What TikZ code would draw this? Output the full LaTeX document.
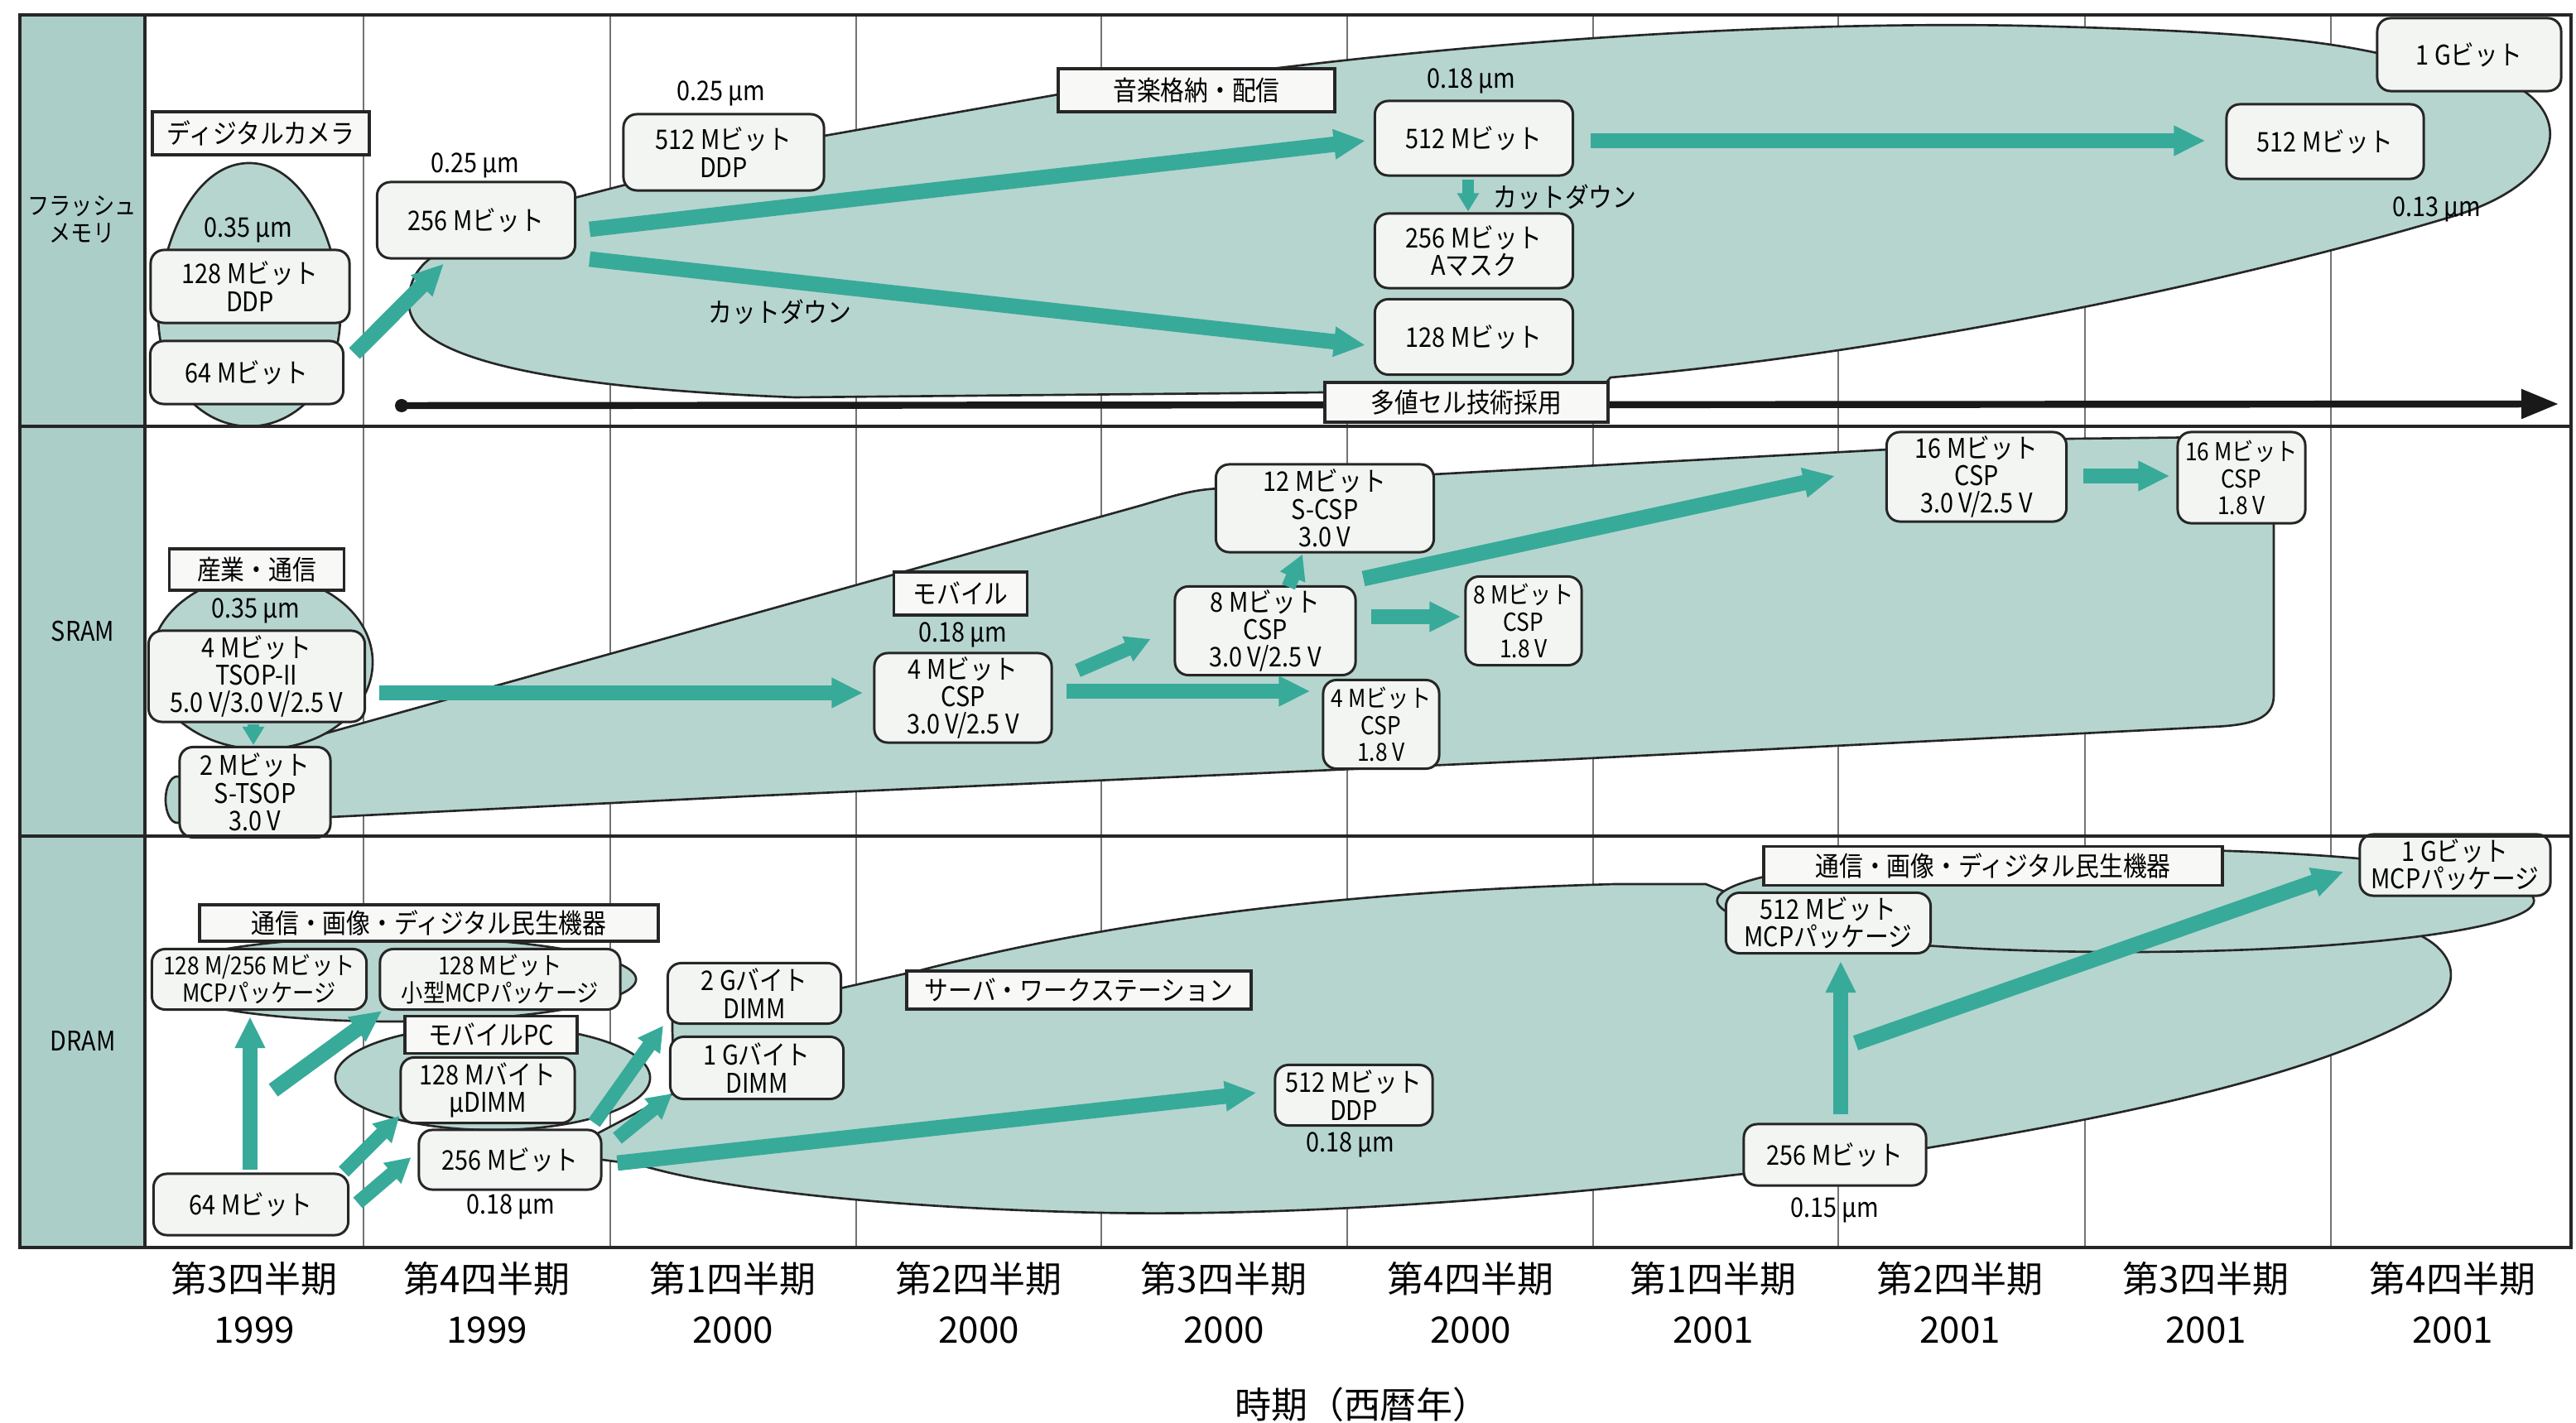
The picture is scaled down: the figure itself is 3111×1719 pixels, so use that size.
\documentclass[tikz,border=0pt]{standalone}
\usepackage{fontspec}
\setmainfont{Noto Sans CJK JP}[FakeStretch=0.88]
\newfontfamily\axisfont{Noto Sans CJK JP}
\usetikzlibrary{arrows.meta}
\definecolor{regfill}{RGB}{182,213,207}
\definecolor{colfill}{RGB}{172,206,200}
\definecolor{boxfill}{RGB}{243,245,242}
\definecolor{catfill}{RGB}{248,249,247}
\definecolor{arrowc}{RGB}{56,170,154}
\newcommand\bxfont{\fontsize{9.3}{9.5}\selectfont}
\newcommand\smfont{\fontsize{8.5}{9.3}\selectfont}
\newcommand\axfont{\axisfont\fontsize{12.5}{13}\selectfont}
\tikzset{
 box/.style={draw=black!85, line width=0.85pt, rounded corners=0.16cm, fill=boxfill, align=center, inner sep=1pt, font=\bxfont},
 cat/.style={draw=black!85, line width=1.1pt, fill=catfill, align=center, inner sep=1pt, font=\bxfont},
 lbl/.style={inner sep=0pt, align=center, font=\bxfont},
 axl/.style={inner sep=0pt, align=center, font=\axfont},
 region/.style={fill=regfill, draw=black!85, line width=0.75pt},
 gridline/.style={draw=black!55, line width=0.4pt},
 frameline/.style={draw=black!85, line width=1.1pt},
 bigarrow/.style={draw=arrowc, line width=5.3pt, -{Triangle[width=0.34cm,length=0.38cm]}},
 midarrow/.style={draw=arrowc, line width=4.8pt, -{Triangle[width=0.31cm,length=0.30cm]}},
 smallarrow/.style={draw=arrowc, line width=3.8pt, -{Triangle[width=0.25cm,length=0.22cm]}},
}
\begin{document}
\begin{tikzpicture}[x=0.01cm,y=-0.01cm]
\useasboundingbox[fill=white] (0,0) rectangle (3111,1719);

% label column and grid
\fill[colfill] (24,18) rectangle (175,1507);
\foreach \gx in {439,737,1034,1330,1627,1924,2220,2518,2815}
  \draw[gridline] (\gx,18) -- (\gx,1507);

% ---------- regions: flash ----------
\path[region] (690,240) -- (760,222) -- (990,165) -- (1290,112) -- (1520,85)
  .. controls (1900,38) and (2250,25) .. (2480,32)
  .. controls (2700,38) and (2800,48) .. (2880,66) -- (3045,108)
  .. controls (3110,150) and (3085,225) .. (2960,262)
  .. controls (2700,340) and (2300,425) .. (1945,456) -- (1935,468) -- (1600,474)
  -- (960,480) .. controls (700,470) and (500,440) .. (494,370)
  .. controls (492,340) and (505,320) .. (530,305) -- cycle;
\path[region] (301,197) .. controls (370,197) and (411,300) .. (411,380)
  .. controls (411,460) and (360,515) .. (301,515)
  .. controls (242,515) and (191,460) .. (191,380)
  .. controls (191,300) and (232,197) .. (301,197);

% ---------- regions: SRAM ----------
\path[region] (368,893) -- (1380,610) .. controls (1420,598) and (1445,590) .. (1480,590)
  -- (1731,573) -- (2280,543) -- (2500,530) -- (2680,528) -- (2746,540) -- (2746,840)
  .. controls (2746,868) and (2720,876) .. (2672,878) -- (1900,917) -- (900,962)
  -- (399,987) -- (300,995) -- (300,905) -- cycle;
\path[region] (214,966) ellipse [x radius=0.14cm, y radius=0.28cm];
\path[region] (316,800) ellipse [x radius=1.34cm, y radius=1.05cm];

% ---------- regions: DRAM ----------
\path[region] (476,1183) ellipse [x radius=2.92cm, y radius=0.51cm];
\path[region] (595,1302) ellipse [x radius=1.90cm, y radius=0.63cm];
\path[region] (1010,1195) -- (1112,1172) .. controls (1400,1098) and (1700,1075) .. (1950,1068)
  -- (2060,1068) -- (2120,1092) -- (2890,1118)
  .. controls (2975,1140) and (2975,1195) .. (2930,1222)
  .. controls (2800,1300) and (2550,1350) .. (2326,1387) -- (2106,1418)
  .. controls (1900,1442) and (1600,1470) .. (1330,1465)
  .. controls (1100,1460) and (880,1440) .. (772,1407)
  -- (720,1400) -- (720,1370) -- (815,1320) -- (812,1245) -- (812,1230) -- cycle;
\path[region] (2567,1088) ellipse [x radius=4.93cm, y radius=0.62cm];

% ---------- multi-level cell timeline ----------
\coordinate (bstart) at (485,490);
\coordinate (bend) at (3090,488);
\fill[black!90] (bstart) circle (0.08cm);
\draw[black!90, line width=2.4pt, -{Triangle[width=0.34cm,length=0.45cm]}] (bstart) -- (bend);

% ---------- nodes: flash ----------
\node[cat, minimum width=2.61cm, minimum height=0.52cm] (fcam) at (315,161) {ディジタルカメラ};
\node[lbl] (f035) at (300,278) {0.35 μm};
\node[box, minimum width=2.40cm, minimum height=0.88cm] (f128) at (302,346) {128 Mビット\\DDP};
\node[box, minimum width=2.33cm, minimum height=0.76cm] (f64) at (298,450) {64 Mビット};
\node[lbl] (f025a) at (574,200) {0.25 μm};
\node[box, minimum width=2.39cm, minimum height=0.92cm] (f256) at (575,266) {256 Mビット};
\node[lbl] (f025b) at (871,113) {0.25 μm};
\node[box, minimum width=2.42cm, minimum height=0.92cm] (f512d) at (874,184) {512 Mビット\\DDP};
\node[cat, minimum width=3.33cm, minimum height=0.52cm] (fmusic) at (1445,109) {音楽格納・配信};
\node[lbl] (f018) at (1777,98) {0.18 μm};
\node[box, minimum width=2.39cm, minimum height=0.90cm] (f512) at (1780,167) {512 Mビット};
\node[lbl, anchor=west] (fcut2) at (1803,238) {カットダウン};
\node[box, minimum width=2.39cm, minimum height=0.90cm] (f256a) at (1780,303) {256 Mビット\\Aマスク};
\node[box, minimum width=2.39cm, minimum height=0.91cm] (f128b) at (1780,407) {128 Mビット};
\node[lbl] (fcut1) at (942,377) {カットダウン};
\node[cat, minimum width=3.41cm, minimum height=0.48cm] (fmulti) at (1771,486) {多値セル技術採用};
\node[box, minimum width=2.38cm, minimum height=0.90cm] (f512r) at (2808,171) {512 Mビット};
\node[box, minimum width=2.22cm, minimum height=0.88cm] (f1g) at (2982,66) {1 Gビット};
\node[lbl] (f013) at (2943,253) {0.13 μm};

% ---------- nodes: SRAM ----------
\node[cat, minimum width=2.11cm, minimum height=0.50cm] (sind) at (310,688) {産業・通信};
\node[lbl] (s035) at (309,738) {0.35 μm};
\node[box, minimum width=2.61cm, minimum height=1.10cm] (s4m) at (310,817) {4 Mビット\\TSOP-II\\5.0 V/3.0 V/2.5 V};
\node[box, minimum width=1.82cm, minimum height=1.09cm] (s2m) at (308,957) {2 Mビット\\S-TSOP\\3.0 V};
\node[cat, minimum width=1.61cm, minimum height=0.52cm] (smob) at (1160,717) {モバイル};
\node[lbl] (s018) at (1163,767) {0.18 μm};
\node[box, minimum width=2.14cm, minimum height=1.08cm] (s4csp) at (1163,843) {4 Mビット\\CSP\\3.0 V/2.5 V};
\node[box, minimum width=2.63cm, minimum height=1.06cm] (s12) at (1600,614) {12 Mビット\\S-CSP\\3.0 V};
\node[box, minimum width=2.18cm, minimum height=1.07cm] (s8) at (1528,762) {8 Mビット\\CSP\\3.0 V/2.5 V};
\node[box, minimum width=1.40cm, minimum height=1.07cm, font=\smfont] (s8l) at (1840,750) {8 Mビット\\CSP\\1.8 V};
\node[box, minimum width=1.40cm, minimum height=1.07cm, font=\smfont] (s4l) at (1668,875) {4 Mビット\\CSP\\1.8 V};
\node[box, minimum width=2.17cm, minimum height=1.08cm] (s16) at (2387,576) {16 Mビット\\CSP\\3.0 V/2.5 V};
\node[box, minimum width=1.54cm, minimum height=1.10cm, font=\smfont] (s16l) at (2707,577) {16 Mビット\\CSP\\1.8 V};

% ---------- nodes: DRAM ----------
\node[cat, minimum width=5.54cm, minimum height=0.44cm] (dcom) at (518,1115) {通信・画像・ディジタル民生機器};
\node[box, minimum width=2.59cm, minimum height=0.73cm, font=\smfont] (dmcp) at (313,1183) {128 M/256 Mビット\\MCPパッケージ};
\node[box, minimum width=2.90cm, minimum height=0.73cm, font=\smfont] (dsmcp) at (604,1183) {128 Mビット\\小型MCPパッケージ};
\node[cat, minimum width=2.08cm, minimum height=0.45cm] (dmpc) at (593,1250) {モバイルPC};
\node[box, minimum width=2.10cm, minimum height=0.79cm] (dudimm) at (589,1317) {128 Mバイト\\μDIMM};
\node[box, minimum width=2.09cm, minimum height=0.73cm] (d2g) at (911,1200) {2 Gバイト\\DIMM};
\node[box, minimum width=2.09cm, minimum height=0.75cm] (d1g) at (914,1290) {1 Gバイト\\DIMM};
\node[box, minimum width=2.20cm, minimum height=0.72cm] (d256) at (616,1401) {256 Mビット};
\node[lbl] (d018) at (617,1458) {0.18 μm};
\node[box, minimum width=2.35cm, minimum height=0.74cm] (d64) at (303,1455) {64 Mビット};
\node[cat, minimum width=4.16cm, minimum height=0.46cm] (dsrv) at (1303,1196) {サーバ・ワークステーション};
\node[box, minimum width=1.90cm, minimum height=0.73cm] (d512) at (1635,1323) {512 Mビット\\DDP};
\node[lbl] (d018b) at (1631,1383) {0.18 μm};
\node[cat, minimum width=5.53cm, minimum height=0.47cm] (dcom2) at (2407,1046) {通信・画像・ディジタル民生機器};
\node[box, minimum width=2.47cm, minimum height=0.73cm] (dmcp512) at (2208,1115) {512 Mビット\\MCPパッケージ};
\node[box, minimum width=2.30cm, minimum height=0.74cm] (d1gmcp) at (2965,1045) {1 Gビット\\MCPパッケージ};
\node[box, minimum width=2.20cm, minimum height=0.74cm] (d256b) at (2216,1395) {256 Mビット};
\node[lbl] (d015) at (2216,1462) {0.15 μm};

% ---------- arrows: flash ----------
\draw[bigarrow] ([shift={(12,-23)}]f64.east) -- ([shift={(-39,5)}]f256.south);
\draw[bigarrow] ([shift={(16,11)}]f256.east) -- ([shift={(-10,3)}]f512.west);
\draw[bigarrow] ([shift={(16,47)}]f256.east) -- ([shift={(-10,10)}]f128b.west);
\draw[smallarrow] ([shift={(-7,3)}]f512.south) -- ([shift={(-7,-1)}]f256a.north);
\draw[bigarrow] ([shift={(20,3)}]f512.east) -- ([shift={(-24,-1)}]f512r.west);

% ---------- arrows: SRAM ----------
\draw[smallarrow] ([shift={(-4,1)}]s4m.south) -- ([shift={(-2,-1)}]s2m.north);
\draw[bigarrow] ([shift={(16,20)}]s4m.east) -- ([shift={(-12,-6)}]s4csp.west);
\draw[midarrow] ([shift={(30,-33)}]s4csp.east) -- ([shift={(-28,10)}]s8.west);
\draw[bigarrow] ([shift={(16,-8)}]s4csp.east) -- ([shift={(-14,-40)}]s4l.west);
\draw[midarrow] ([shift={(28,2)}]s8.north) -- ([shift={(-27,1)}]s12.south);
\draw[bigarrow] ([shift={(17,-17)}]s8.east) -- ([shift={(-4,-5)}]s8l.west);
\draw[bigarrow] ([shift={(8,-8)}]s8.north east) -- ([shift={(-61,-1)}]s16.west);
\draw[bigarrow] ([shift={(19,-1)}]s16.east) -- ([shift={(-8,-2)}]s16l.west);

% ---------- arrows: DRAM ----------
\coordinate (dfree1) at (330,1317);
\coordinate (dfree2) at (2241,1260);
\draw[bigarrow] ([shift={(-1,-3)}]d64.north) -- ([shift={(-11,7)}]dmcp.south);
\draw[bigarrow] (dfree1) -- ([shift={(4,0)}]dsmcp.south west);
\draw[midarrow] ([shift={(-7,-1)}]d64.north east) -- ([shift={(0,-10)}]dudimm.south west);
\draw[midarrow] ([shift={(10,-2)}]d64.east) -- ([shift={(-8,-3)}]d256.west);
\draw[midarrow] ([shift={(-10,-7)}]d256.north east) -- ([shift={(-4,1)}]d2g.south west);
\draw[midarrow] ([shift={(18,-26)}]d256.east) -- ([shift={(4,-8)}]d1g.south west);
\draw[bigarrow] ([shift={(18,4)}]d256.east) -- ([shift={(-21,-3)}]d512.west);
\draw[bigarrow] ([shift={(7,-10)}]d256b.north) -- ([shift={(15,8)}]dmcp512.south);
\draw[bigarrow] (dfree2) -- ([shift={(-18,8)}]d1gmcp.west);

% ---------- frame ----------
\draw[frameline] (24,18) rectangle (3105,1507);
\draw[frameline] (175,18) -- (175,1507);
\draw[frameline] (24,515) -- (3105,515);
\draw[frameline] (24,1010) -- (3105,1010);

% lane labels
\node[lbl, font=\smfont] (lflash) at (99,265) {フラッシュ\\メモリ};
\node[lbl] (lsram) at (100,763) {SRAM};
\node[lbl] (ldram) at (100,1258) {DRAM};

% axis
\foreach \i/\qx/\qn/\yr in {1/307/3/1999, 2/588/4/1999, 3/885/1/2000, 4/1182/2/2000, 5/1478/3/2000, 6/1776/4/2000, 7/2069/1/2001, 8/2367/2/2001, 9/2664/3/2001, 10/2962/4/2001} {
  \node[axl] (q\i) at (\qx,1545) {第\qn 四半期};
  \node[axl] (y\i) at (\qx,1607) {\yr};
}
\node[axl] (axtitle) at (1645,1697) {時期（西暦年）};
\end{tikzpicture}
\end{document}
